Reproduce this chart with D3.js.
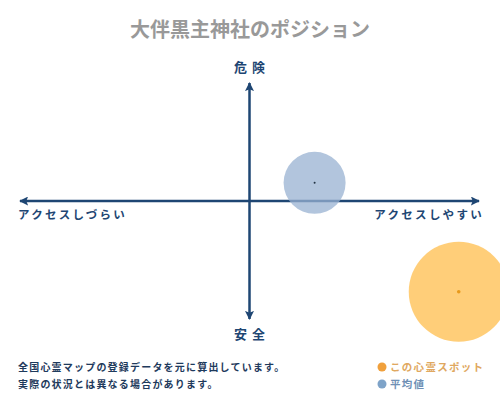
<!DOCTYPE html>
<html><head><meta charset="utf-8">
<script src="https://cdn.jsdelivr.net/npm/d3@7"></script>
<style>html,body{margin:0;padding:0;background:#fff;}svg{display:block;}</style>
</head><body>
<svg id="c" width="500" height="400"></svg>
<script>
const title = "大伴黒主神社のポジション";
const axisLabels = {top:"危 険", bottom:"安 全", left:"アクセスしづらい", right:"アクセスしやすい"};
const seriesNames = ["この心霊スポット", "平均値"];
const xValues = [90, 28];   // access: -100 hard .. 100 easy
const yValues = [-75, 15];  // danger: -100 safe .. 100 dangerous
const notes = ["全国心霊マップの登録データを元に算出しています。", "実際の状況とは異なる場合があります。"];

const font = "'Noto Sans CJK JP', sans-serif";
const navy = "#1e4673";
const svg = d3.select("#c");
const x = d3.scaleLinear().domain([-100,100]).range([17,482]);
const y = d3.scaleLinear().domain([-100,100]).range([322,80]);

const defs = svg.append("defs");
defs.append("marker").attr("id","ah").attr("viewBox","0 0 10 10").attr("refX",9).attr("refY",5)
  .attr("markerWidth",3.6).attr("markerHeight",3.6).attr("orient","auto-start-reverse")
  .append("path").attr("d","M0,0L10,5L0,10L2,5Z").attr("fill",navy);

svg.append("text").attr("x",250).attr("y",37).attr("text-anchor","middle")
  .attr("font-family",font).attr("font-weight","bold").attr("font-size",20).attr("fill","#999")
  .text(title);

// axes
svg.append("line").attr("x1",x(-100)+3).attr("x2",x(100)-3).attr("y1",y(0)).attr("y2",y(0))
  .attr("stroke",navy).attr("stroke-width",2.5).attr("marker-start","url(#ah)").attr("marker-end","url(#ah)");
svg.append("line").attr("x1",x(0)).attr("x2",x(0)).attr("y1",y(100)+3).attr("y2",y(-100)-3)
  .attr("stroke",navy).attr("stroke-width",2.5).attr("marker-start","url(#ah)").attr("marker-end","url(#ah)");

const lab = (t,xx,yy,anchor,size,ls)=>svg.append("text").attr("x",xx).attr("y",yy).attr("text-anchor",anchor)
  .attr("font-family",font).attr("font-weight","bold").attr("font-size",size).attr("letter-spacing",ls)
  .attr("fill",navy).text(t);
lab(axisLabels.top, 250, 72, "middle", 13, 1);
lab(axisLabels.bottom, 250, 339, "middle", 13, 1);
lab(axisLabels.left, 18, 219, "start", 11.5, 2.3);
lab(axisLabels.right, 484, 219, "end", 11.5, 2.3);

// circles
const radii = [50, 31];
const fills = ["#ffc561", "#98b2d1"];
const dots = ["#e89a1c", "#223344"];
const order = [1,0];
order.forEach(i=>{
  svg.append("circle").attr("cx",x(xValues[i])).attr("cy",y(yValues[i])).attr("r",radii[i])
    .attr("fill",fills[i]).attr("fill-opacity",i===0?0.85:0.75);
  svg.append("circle").attr("cx",x(xValues[i])).attr("cy",y(yValues[i])).attr("r",i===0?1.8:1)
    .attr("fill",dots[i]);
});

// notes
notes.forEach((t,i)=>svg.append("text").attr("x",18).attr("y",371+i*17)
  .attr("font-family",font).attr("font-weight","bold").attr("font-size",10).attr("letter-spacing",1.2)
  .attr("fill","#1e3a5c").text(t));

// legend
const legCol = ["#f0a03c","#7ea3c8"];
const legText = ["#e0a860","#6f90b5"];
seriesNames.forEach((t,i)=>{
  svg.append("circle").attr("cx",382).attr("cy",367+i*17).attr("r",4.5).attr("fill",legCol[i]);
  svg.append("text").attr("x",390).attr("y",371+i*17).attr("font-family",font).attr("font-weight","bold")
    .attr("font-size",10.5).attr("letter-spacing",1.3).attr("fill",legText[i]).text(t);
});
</script>
</body></html>
